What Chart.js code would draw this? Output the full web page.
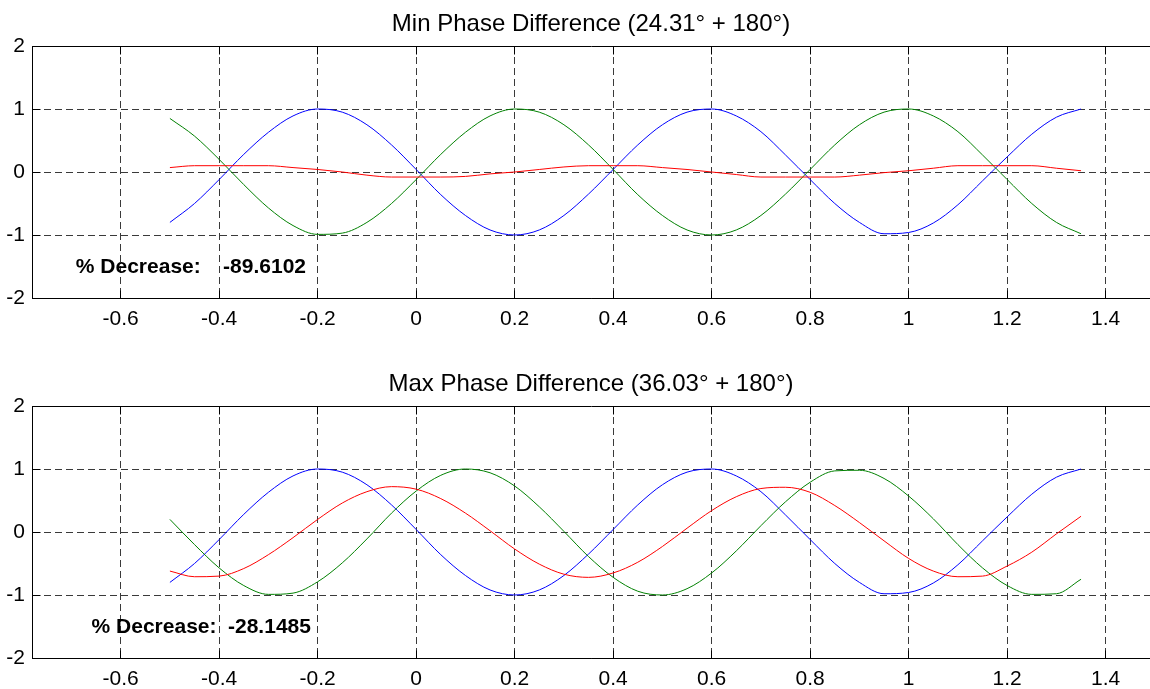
<!DOCTYPE html>
<html>
<head>
<meta charset="utf-8">
<script src="https://cdn.jsdelivr.net/npm/chart.js@4.4.1/dist/chart.umd.min.js"></script>
<style>
  html, body { margin: 0; padding: 0; background: #fff; overflow: hidden; }
  .panel { position: absolute; left: 0; width: 1150px; height: 330px; }
  #panelMin { top: 0; }
  #panelMax { top: 360px; }
</style>
</head>
<body>
<div class="panel" id="panelMin"><canvas id="phaseMin" width="1150" height="330"></canvas></div>
<div class="panel" id="panelMax"><canvas id="phaseMax" width="1150" height="330"></canvas></div>
<script>
// ─── Data ────────────────────────────────────────────────────
const X = [-0.5, -0.45, -0.4, -0.35, -0.3, -0.25, -0.2, -0.15, -0.1, -0.05,
  0, 0.05, 0.1, 0.15, 0.2, 0.25, 0.3, 0.35, 0.4, 0.45,
  0.5, 0.55, 0.6, 0.65, 0.7, 0.75, 0.8, 0.85, 0.9, 0.95,
  1, 1.05, 1.1, 1.15, 1.2, 1.25, 1.3, 1.35];

const X_TICKS = [-0.6, -0.4, -0.2, 0, 0.2, 0.4, 0.6, 0.8, 1, 1.2, 1.4];
const Y_TICKS = [-2, -1, 0, 1, 2];

// Min phase difference panel
const MIN_BLUE = [-0.80, -0.50, -0.12, 0.28, 0.63, 0.89, 1.00, 0.95, 0.75, 0.43,
  0.04, -0.36, -0.69, -0.92, -1.00, -0.92, -0.69, -0.35, 0.04, 0.43,
  0.75, 0.95, 1.00, 0.89, 0.64, 0.27, -0.12, -0.50, -0.80, -0.98,
  -0.96, -0.81, -0.52, -0.14, 0.24, 0.60, 0.87, 1.00];
const MIN_GREEN = [0.85, 0.57, 0.20, -0.20, -0.57, -0.85, -0.99, -0.97, -0.80, -0.50,
  -0.12, 0.28, 0.63, 0.89, 1.00, 0.95, 0.75, 0.43, 0.04, -0.36,
  -0.69, -0.92, -1.00, -0.92, -0.69, -0.35, 0.04, 0.43, 0.75, 0.95,
  1.00, 0.89, 0.64, 0.27, -0.12, -0.50, -0.80, -0.98];
const MIN_RED = [0.07, 0.10, 0.10, 0.10, 0.10, 0.07, 0.04, 0.00, -0.05, -0.08,
  -0.08, -0.08, -0.07, -0.03, 0.00, 0.04, 0.08, 0.10, 0.10, 0.10,
  0.07, 0.04, 0.00, -0.04, -0.08, -0.08, -0.08, -0.08, -0.05, -0.01,
  0.02, 0.06, 0.10, 0.10, 0.10, 0.10, 0.06, 0.02];

// Max phase difference panel
const MAX_BLUE = [-0.80, -0.50, -0.12, 0.28, 0.63, 0.89, 1.00, 0.95, 0.75, 0.43,
  0.04, -0.36, -0.69, -0.92, -1.00, -0.92, -0.69, -0.35, 0.04, 0.43,
  0.75, 0.95, 1.00, 0.89, 0.64, 0.27, -0.12, -0.50, -0.80, -0.98,
  -0.96, -0.81, -0.52, -0.14, 0.24, 0.60, 0.87, 1.00];
const MAX_GREEN = [0.20, -0.20, -0.57, -0.85, -0.99, -0.97, -0.79, -0.49, -0.11, 0.30,
  0.65, 0.90, 1.00, 0.94, 0.73, 0.40, 0.01, -0.39, -0.72, -0.94,
  -1.00, -0.90, -0.65, -0.30, 0.10, 0.48, 0.79, 0.97, 0.98, 0.85,
  0.57, 0.21, -0.20, -0.57, -0.85, -0.99, -0.98, -0.75];
const MAX_RED = [-0.62, -0.71, -0.70, -0.58, -0.36, -0.09, 0.20, 0.46, 0.64, 0.72,
  0.68, 0.53, 0.30, 0.02, -0.27, -0.51, -0.67, -0.72, -0.65, -0.48,
  -0.23, 0.06, 0.34, 0.56, 0.69, 0.71, 0.63, 0.42, 0.15, -0.14,
  -0.42, -0.62, -0.71, -0.70, -0.54, -0.32, -0.03, 0.25];

const MIN_TITLE = 'Min Phase Difference (24.31\u00B0 + 180\u00B0)';
const MAX_TITLE = 'Max Phase Difference (36.03\u00B0 + 180\u00B0)';
const DECREASE_LABEL = '% Decrease:';
const MIN_DECREASE = '-89.6102';
const MAX_DECREASE = '-28.1485';

// ─── Helpers ─────────────────────────────────────────────────
const FONT = '"Liberation Sans", Arial, Helvetica, sans-serif';
Chart.defaults.font.family = FONT;
Chart.defaults.color = '#000';

const toPoints = ys => ys.map((v, i) => ({ x: X[i], y: v }));
const fmt = v => String(+v.toFixed(1));

// solid box + inward ticks, MATLAB style
const framePlugin = {
  id: 'frame',
  afterDraw(chart) {
    const { ctx, chartArea: a, scales: { x, y } } = chart;
    const snap = p => Math.round(p - 0.5) + 0.5;
    const L = snap(a.left), T = snap(a.top), B = snap(a.bottom), R = snap(a.right);
    ctx.save();
    ctx.setLineDash([]);
    ctx.strokeStyle = '#000';
    ctx.lineWidth = 1;
    ctx.beginPath();
    ctx.moveTo(R, T); ctx.lineTo(L, T); ctx.lineTo(L, B); ctx.lineTo(R, B);
    x.ticks.forEach(t => {
      const px = snap(x.getPixelForValue(t.value));
      ctx.moveTo(px, B); ctx.lineTo(px, B - 8);
      ctx.moveTo(px, T); ctx.lineTo(px, T + 8);
    });
    y.ticks.forEach(t => {
      const py = snap(y.getPixelForValue(t.value));
      ctx.moveTo(L, py); ctx.lineTo(L + 8, py);
    });
    ctx.stroke();
    ctx.restore();
  }
};

// "% Decrease:" text placed in data coordinates
const decreasePlugin = {
  id: 'decrease',
  afterDatasetsDraw(chart, args, opts) {
    const { ctx, scales: { x, y } } = chart;
    ctx.save();
    ctx.font = 'bold 21px ' + FONT;
    ctx.fillStyle = '#000';
    ctx.textAlign = 'left';
    ctx.textBaseline = 'alphabetic';
    const by = y.getPixelForValue(opts.baseY);
    ctx.fillText(DECREASE_LABEL, x.getPixelForValue(opts.labelX), by);
    ctx.fillText(opts.value, x.getPixelForValue(opts.valueX), by);
    ctx.restore();
  }
};

function line(data, color, order) {
  return {
    data: toPoints(data),
    borderColor: color,
    borderWidth: 1,
    pointRadius: 0,
    fill: false,
    cubicInterpolationMode: 'monotone',
    order
  };
}

function makePanel(id, title, blue, green, red, decrease) {
  return new Chart(document.getElementById(id), {
    type: 'line',
    data: {
      datasets: [
        line(blue, '#0000ff', 2),
        line(green, '#008000', 1),
        line(red, '#ff0000', 0)
      ]
    },
    options: {
      responsive: false,
      animation: false,
      devicePixelRatio: 1,
      layout: { padding: 0 },
      plugins: {
        legend: { display: false },
        tooltip: { enabled: false },
        title: {
          display: true,
          text: title,
          fullSize: false,
          color: '#000',
          font: { size: 24, weight: 'normal' },
          padding: { top: 10, bottom: 7.2 }
        },
        decrease
      },
      scales: {
        x: {
          type: 'linear',
          min: -0.78,
          max: 1.49,
          afterBuildTicks: s => { s.ticks = X_TICKS.map(v => ({ value: v })); },
          afterFit: s => { s.height = 32; },
          grid: { color: '#3a3a3a', lineWidth: 1, drawTicks: false },
          border: { color: '#000', dash: [7, 4] },
          ticks: {
            autoSkip: false, maxRotation: 0, padding: 9,
            font: { size: 21 }, color: '#000',
            callback: v => fmt(v)
          }
        },
        y: {
          min: -2,
          max: 2,
          afterBuildTicks: s => { s.ticks = Y_TICKS.map(v => ({ value: v })); },
          afterFit: s => { s.width = 32; },
          grid: { color: '#3a3a3a', lineWidth: 1, drawTicks: false },
          border: { color: '#000', dash: [7, 4] },
          ticks: {
            padding: 7,
            font: { size: 21 }, color: '#000',
            callback: v => fmt(v)
          }
        }
      }
    },
    plugins: [framePlugin, decreasePlugin]
  });
}

makePanel('phaseMin', MIN_TITLE, MIN_BLUE, MIN_GREEN, MIN_RED,
  { value: MIN_DECREASE, labelX: -0.691, valueX: -0.392, baseY: -1.6 });
makePanel('phaseMax', MAX_TITLE, MAX_BLUE, MAX_GREEN, MAX_RED,
  { value: MAX_DECREASE, labelX: -0.659, valueX: -0.382, baseY: -1.6 });
</script>
</body>
</html>
